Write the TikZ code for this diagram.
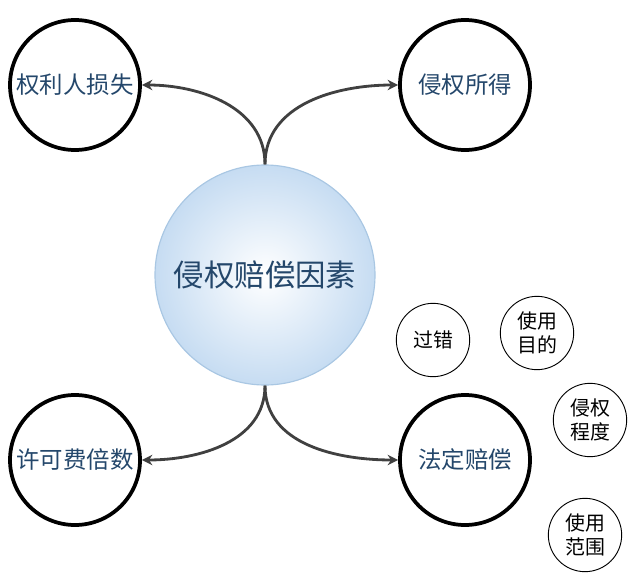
\documentclass[tikz,border=0pt]{standalone}
\usepackage{fontspec}
\setmainfont{Noto Sans CJK SC}
\usetikzlibrary{arrows.meta}
\definecolor{labelblue}{HTML}{24476B}
\definecolor{hubedge}{HTML}{A9C7E3}
\definecolor{hubfill}{HTML}{C6DCF2}
\tikzset{
  factor/.style={circle, draw=black, line width=3.2pt, minimum size=3.9cm,
    inner sep=0pt, text=labelblue, font=\fontsize{20}{22}\selectfont},
  minor/.style={circle, draw=black, line width=0.8pt, minimum size=2.2cm,
    inner sep=0pt, align=center, font=\fontsize{17}{20}\selectfont},
  link/.style={draw=black!75, line width=2.4pt, -{Stealth[length=9pt,width=9pt]}}
}
\begin{document}
\begin{tikzpicture}[x=0.03cm, y=-0.03cm]
\useasboundingbox (0,0) rectangle (640,588);
\node[circle, draw=hubedge, line width=1pt, minimum size=6.6cm,
  inner color=white, outer color=hubfill, text=labelblue,
  font=\fontsize{26}{28}\selectfont] (center) at (265,275) {侵权赔偿因素};
\node[factor] (loss) at (75,85) {权利人损失};
\node[factor] (gain) at (465,85) {侵权所得};
\node[factor] (fee) at (75,460) {许可费倍数};
\node[factor] (legal) at (465,460) {法定赔偿};
\node[minor] (fault) at (433,340) {过错};
\node[minor] (purpose) at (537,333) {使用\\目的};
\node[minor] (degree) at (590,420) {侵权\\程度};
\node[minor] (scope) at (585,535) {使用\\范围};
% arrows from the centre
\draw[link] (center.north) to[out=90, in=0] (loss.east);
\draw[link] (center.north) to[out=90, in=180] (gain.west);
\draw[link] (center.south) to[out=-90, in=0] (fee.east);
\draw[link] (center.south) to[out=-90, in=180] (legal.west);
\end{tikzpicture}
\end{document}
